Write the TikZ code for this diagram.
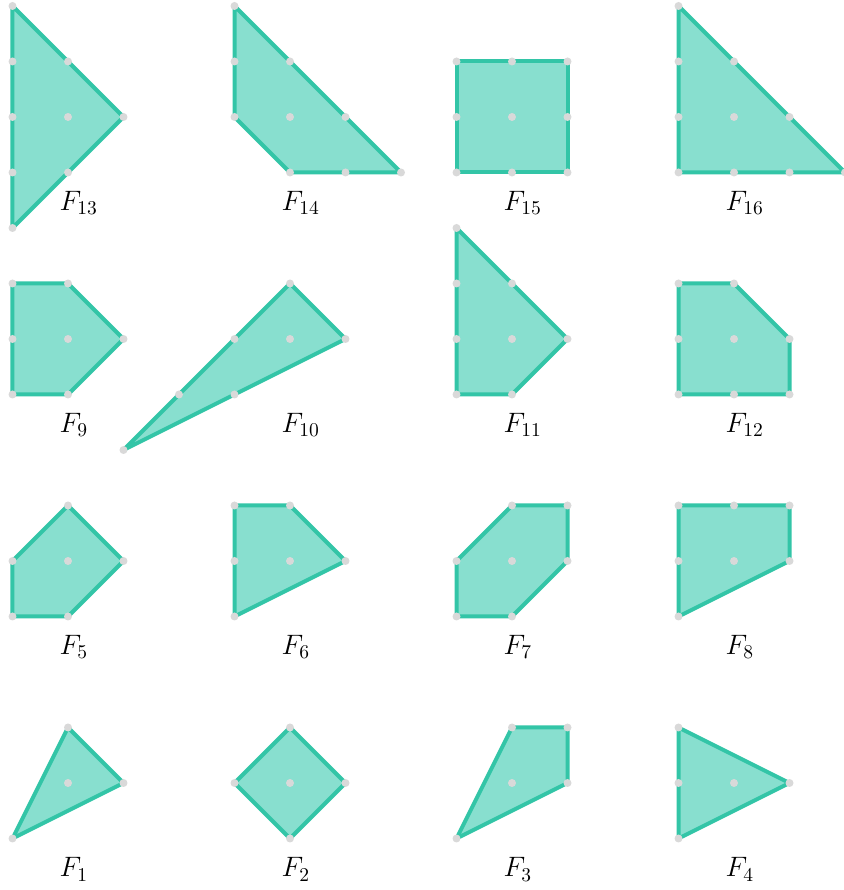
\documentclass[tikz,border=0pt]{standalone}
\definecolor{polyfill}{HTML}{88DFCF}
\definecolor{polyline}{HTML}{33C5A7}
\definecolor{dotgray}{HTML}{D9D9D9}
\tikzset{
  poly/.style={fill=polyfill, draw=polyline, line width=2.05pt, line join=round},
  latdot/.style={fill=dotgray},
  lab/.style={anchor=base west, inner sep=0pt, font=\fontsize{14.8}{18}\selectfont}
}
\newcommand\latpts[1]{\foreach \p in {#1} \fill[latdot] \p circle (0.072);}
\begin{document}
\begin{tikzpicture}
\useasboundingbox (0,0) rectangle (15.207,16.036);
% row 0
\begin{scope}[shift={(1.2252,13.928)}]
\draw[poly] (-1,2) -- (1,0) -- (-1,-2) -- cycle;
\latpts{(-1,2),(-1,1),(0,1),(-1,0),(0,0),(1,0),(-1,-1),(0,-1),(-1,-2)}
\node[lab] (l13) at (-0.16,-1.69) {$F_{13}$};
\end{scope}
\begin{scope}[shift={(5.2252,13.928)}]
\draw[poly] (-1,2) -- (2,-1) -- (0,-1) -- (-1,0) -- cycle;
\latpts{(-1,2),(-1,1),(0,1),(-1,0),(0,0),(1,0),(0,-1),(1,-1),(2,-1)}
\node[lab] (l14) at (-0.16,-1.69) {$F_{14}$};
\end{scope}
\begin{scope}[shift={(9.2252,13.928)}]
\draw[poly] (-1,1) -- (1,1) -- (1,-1) -- (-1,-1) -- cycle;
\latpts{(-1,1),(0,1),(1,1),(-1,0),(0,0),(1,0),(-1,-1),(0,-1),(1,-1)}
\node[lab] (l15) at (-0.16,-1.69) {$F_{15}$};
\end{scope}
\begin{scope}[shift={(13.2252,13.928)}]
\draw[poly] (-1,2) -- (2,-1) -- (-1,-1) -- cycle;
\latpts{(-1,2),(-1,1),(0,1),(-1,0),(0,0),(1,0),(-1,-1),(0,-1),(1,-1),(2,-1)}
\node[lab] (l16) at (-0.16,-1.69) {$F_{16}$};
\end{scope}
% row 1
\begin{scope}[shift={(1.2252,9.928)}]
\draw[poly] (-1,1) -- (0,1) -- (1,0) -- (0,-1) -- (-1,-1) -- cycle;
\latpts{(-1,1),(0,1),(-1,0),(0,0),(1,0),(-1,-1),(0,-1)}
\node[lab] (l9) at (-0.16,-1.69) {$F_{9}$};
\end{scope}
\begin{scope}[shift={(5.2252,9.928)}]
\draw[poly] (0,1) -- (1,0) -- (-3,-2) -- cycle;
\latpts{(0,1),(-1,0),(0,0),(1,0),(-2,-1),(-1,-1),(-3,-2)}
\node[lab] (l10) at (-0.16,-1.69) {$F_{10}$};
\end{scope}
\begin{scope}[shift={(9.2252,9.928)}]
\draw[poly] (-1,2) -- (1,0) -- (0,-1) -- (-1,-1) -- cycle;
\latpts{(-1,2),(-1,1),(0,1),(-1,0),(0,0),(1,0),(-1,-1),(0,-1)}
\node[lab] (l11) at (-0.16,-1.69) {$F_{11}$};
\end{scope}
\begin{scope}[shift={(13.2252,9.928)}]
\draw[poly] (-1,1) -- (0,1) -- (1,0) -- (1,-1) -- (-1,-1) -- cycle;
\latpts{(-1,1),(0,1),(-1,0),(0,0),(1,0),(-1,-1),(0,-1),(1,-1)}
\node[lab] (l12) at (-0.16,-1.69) {$F_{12}$};
\end{scope}
% row 2
\begin{scope}[shift={(1.2252,5.928)}]
\draw[poly] (0,1) -- (1,0) -- (0,-1) -- (-1,-1) -- (-1,0) -- cycle;
\latpts{(0,1),(-1,0),(0,0),(1,0),(-1,-1),(0,-1)}
\node[lab] (l5) at (-0.16,-1.69) {$F_{5}$};
\end{scope}
\begin{scope}[shift={(5.2252,5.928)}]
\draw[poly] (-1,1) -- (0,1) -- (1,0) -- (-1,-1) -- cycle;
\latpts{(-1,1),(0,1),(-1,0),(0,0),(1,0),(-1,-1)}
\node[lab] (l6) at (-0.16,-1.69) {$F_{6}$};
\end{scope}
\begin{scope}[shift={(9.2252,5.928)}]
\draw[poly] (0,1) -- (1,1) -- (1,0) -- (0,-1) -- (-1,-1) -- (-1,0) -- cycle;
\latpts{(0,1),(1,1),(-1,0),(0,0),(1,0),(-1,-1),(0,-1)}
\node[lab] (l7) at (-0.16,-1.69) {$F_{7}$};
\end{scope}
\begin{scope}[shift={(13.2252,5.928)}]
\draw[poly] (-1,1) -- (1,1) -- (1,0) -- (-1,-1) -- cycle;
\latpts{(-1,1),(0,1),(1,1),(-1,0),(0,0),(1,0),(-1,-1)}
\node[lab] (l8) at (-0.16,-1.69) {$F_{8}$};
\end{scope}
% row 3
\begin{scope}[shift={(1.2252,1.928)}]
\draw[poly] (0,1) -- (1,0) -- (-1,-1) -- cycle;
\latpts{(0,1),(0,0),(1,0),(-1,-1)}
\node[lab] (l1) at (-0.16,-1.69) {$F_{1}$};
\end{scope}
\begin{scope}[shift={(5.2252,1.928)}]
\draw[poly] (0,1) -- (1,0) -- (0,-1) -- (-1,0) -- cycle;
\latpts{(0,1),(-1,0),(0,0),(1,0),(0,-1)}
\node[lab] (l2) at (-0.16,-1.69) {$F_{2}$};
\end{scope}
\begin{scope}[shift={(9.2252,1.928)}]
\draw[poly] (0,1) -- (1,1) -- (1,0) -- (-1,-1) -- cycle;
\latpts{(0,1),(1,1),(0,0),(1,0),(-1,-1)}
\node[lab] (l3) at (-0.16,-1.69) {$F_{3}$};
\end{scope}
\begin{scope}[shift={(13.2252,1.928)}]
\draw[poly] (-1,1) -- (1,0) -- (-1,-1) -- cycle;
\latpts{(-1,1),(-1,0),(0,0),(1,0),(-1,-1)}
\node[lab] (l4) at (-0.16,-1.69) {$F_{4}$};
\end{scope}
\end{tikzpicture}
\end{document}
